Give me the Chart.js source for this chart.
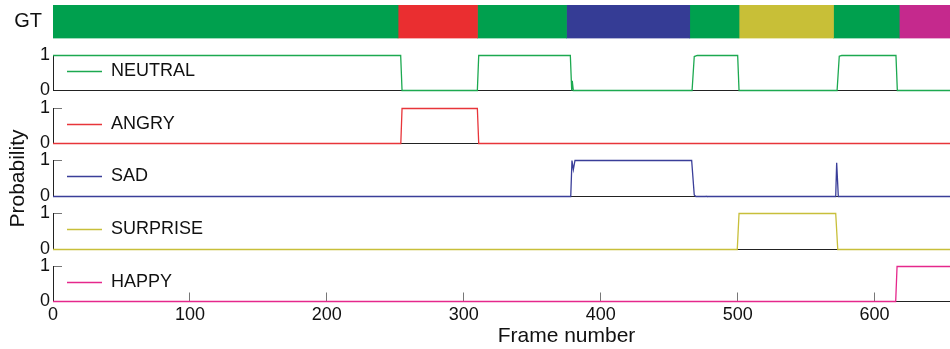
<!DOCTYPE html>
<html><head><meta charset="utf-8">
<script src="https://cdn.jsdelivr.net/npm/chart.js@4.4.1/dist/chart.umd.min.js"></script>
<style>
html,body{margin:0;padding:0;background:#fff;overflow:hidden;width:950px;height:349px;}
canvas{position:absolute;left:0;top:0;}
</style></head><body>
<canvas id="gt" width="1080" height="349"></canvas>
<canvas id="p0" width="1080" height="349"></canvas>
<canvas id="p1" width="1080" height="349"></canvas>
<canvas id="p2" width="1080" height="349"></canvas>
<canvas id="p3" width="1080" height="349"></canvas>
<canvas id="p4" width="1080" height="349"></canvas>
<script>
// ---------- data ----------
const xMax = 750;
const xTickValues = [0, 100, 200, 300, 400, 500, 600];
const yTickValues = [0, 1];

const gtStart = [0, 252, 310, 375, 465, 501, 570, 618];
const gtEnd   = [252, 310, 375, 465, 501, 570, 618, 656];
const gtLabel = ['NEUTRAL', 'ANGRY', 'NEUTRAL', 'SAD', 'NEUTRAL', 'SURPRISE', 'NEUTRAL', 'HAPPY'];

const emotions = ['NEUTRAL', 'ANGRY', 'SAD', 'SURPRISE', 'HAPPY'];

const neutralFrames = [0, 253.9, 254.9, 309.9, 310.9, 377.8, 378.8, 379.2, 380.0, 466.7, 468.3, 470.5, 500.0, 501.0, 572.6, 574.2, 576.0, 615.6, 616.6, 656];
const neutralProb   = [1, 1, 0, 0, 1, 1, 0, 0.28, 0, 0, 0.97, 1, 1, 0, 0, 0.98, 1, 1, 0, 0];

const angryFrames = [0, 254.0, 254.9, 309.9, 310.9, 656];
const angryProb   = [0, 0, 1, 1, 0, 0];

const sadFrames = [0, 378.1, 379.0, 380.0, 381.2, 466.4, 468.3, 469.5, 476.5, 477.0, 477.5, 571.6, 572.3, 573.5, 656];
const sadProb   = [0, 0, 1, 0.75, 1, 1, 0.04, 0, 0, 0.01, 0, 0, 0.94, 0, 0];

const surpriseFrames = [0, 499.7, 501.0, 571.6, 573.1, 656];
const surpriseProb   = [0, 0, 1, 1, 0, 0];

const happyFrames = [0, 615.4, 616.4, 656];
const happyProb   = [0, 0, 1, 1];

// ---------- style ----------
const lineColors = {NEUTRAL:'#1ca950', ANGRY:'#e8353a', SAD:'#3a3e99', SURPRISE:'#c8bf3a', HAPPY:'#e5288c'};
const gtColors   = {NEUTRAL:'#00a04e', ANGRY:'#ea2e30', SAD:'#353c95', SURPRISE:'#c8bf37', HAPPY:'#c5298d'};
const H = 349;
const AXIS_W = 53;
const panelTop    = [55.5, 108.5, 160.5, 213.5, 266.5];
const panelBottom = [90.5, 143.5, 196.5, 249.5, 301.5];

Chart.defaults.font.family = "'Liberation Sans', Arial, Helvetica, sans-serif";
Chart.defaults.color = '#111';

const series = {
  NEUTRAL: [neutralFrames, neutralProb],
  ANGRY: [angryFrames, angryProb],
  SAD: [sadFrames, sadProb],
  SURPRISE: [surpriseFrames, surpriseProb],
  HAPPY: [happyFrames, happyProb]
};

// ---------- GT bar ----------
new Chart(document.getElementById('gt'), {
  type: 'bar',
  data: {
    labels: ['GT'],
    datasets: gtStart.map((s, i) => ({
      label: gtLabel[i],
      data: [[s, gtEnd[i]]],
      backgroundColor: gtColors[gtLabel[i]],
      borderWidth: 0,
      grouped: false,
      barPercentage: 1,
      categoryPercentage: 1
    }))
  },
  options: {
    indexAxis: 'y',
    responsive: false,
    animation: false,
    layout: {padding: {top: 5, bottom: H - 38.5, left: 0, right: 0}},
    plugins: {legend: {display: false}, tooltip: {enabled: false}},
    scales: {
      x: {type: 'linear', min: 0, max: xMax, display: false},
      y: {
        type: 'category',
        afterFit: s => { s.width = AXIS_W; s.paddingTop = 0; s.paddingBottom = 0; },
        grid: {display: false, drawTicks: false},
        border: {display: false},
        ticks: {font: {size: 20}, color: '#111', padding: 11}
      }
    }
  }
});

// ---------- probability panels ----------
// place the in-plot legend inside each panel (Chart.js 'chartArea' legend keeps top at 0 otherwise)
const legendPlace = {
  id: 'legendPlace',
  afterLayout(chart) {
    const lg = chart.legend, ca = chart.chartArea;
    if (!lg) return;
    const h = lg.height;
    lg.left = ca.left + 7;
    lg.right = lg.left + lg.width;
    lg.top = ca.top;
    lg.bottom = ca.top + h;
  }
};

emotions.forEach((name, i) => {
  const isLast = i === emotions.length - 1;
  const [frames, prob] = series[name];
  const xScale = isLast ? {
    type: 'linear', min: 0, max: xMax,
    afterBuildTicks: s => { s.ticks = xTickValues.map(v => ({value: v})); },
    afterFit: s => { s.height = H - panelBottom[i]; },
    ticks: {font: {size: 18}, color: '#111', padding: 12, maxRotation: 0, autoSkip: false, callback: v => String(v)},
    grid: {display: true, drawOnChartArea: false, drawTicks: true, tickLength: -9, tickColor: '#777'},
    border: {display: true, color: '#222', width: 1},
    title: {display: true, text: 'Frame number', font: {size: 21}, color: '#111', padding: {top: 0, bottom: 0}}
  } : {
    type: 'linear', min: 0, max: xMax,
    afterFit: s => { s.height = 0; },
    ticks: {display: false},
    grid: {display: false},
    border: {display: true, color: '#222', width: 1}
  };
  const yScale = {
    type: 'linear', min: 0, max: 1,
    afterBuildTicks: s => { s.ticks = yTickValues.map(v => ({value: v})); },
    afterFit: s => { s.width = AXIS_W; },
    ticks: {font: {size: 18}, color: '#111', padding: 12, callback: v => String(v)},
    grid: {display: true, drawOnChartArea: false, drawTicks: true, tickLength: -9, tickColor: '#777'},
    border: {display: true, color: '#222', width: 1}
  };
  if (name === 'SAD') {
    yScale.title = {display: true, text: 'Probability', font: {size: 21}, color: '#111', padding: {top: 6, bottom: 0}};
  }
  new Chart(document.getElementById('p' + i), {
    type: 'line',
    data: {
      datasets: [{
        label: name,
        data: frames.map((f, k) => ({x: f, y: prob[k]})),
        borderColor: lineColors[name],
        backgroundColor: lineColors[name],
        borderWidth: 1.3,
        pointRadius: 0,
        tension: 0,
        fill: false,
        clip: 6
      }]
    },
    options: {
      responsive: false,
      animation: false,
      layout: {padding: {top: panelTop[i], bottom: isLast ? 0 : H - panelBottom[i], left: 0, right: 0}},
      plugins: {
        tooltip: {enabled: false},
        legend: {
          display: true, position: 'chartArea', align: 'start',
          labels: {boxWidth: 35, boxHeight: 0, padding: 7, color: '#111', font: {size: 18}}
        }
      },
      scales: {x: xScale, y: yScale}
    },
    plugins: [legendPlace]
  });
});
</script>
</body></html>
